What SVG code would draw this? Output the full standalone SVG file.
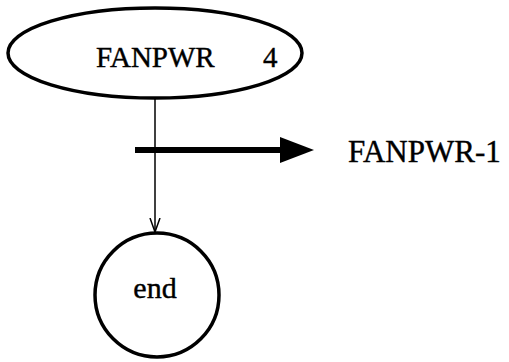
<svg xmlns="http://www.w3.org/2000/svg" width="509" height="362" viewBox="0 0 509 362">
<style>
.n{fill:none;stroke:#000;stroke-width:3.5}
.t{font-family:"Liberation Serif",serif;font-size:29px;fill:#000;stroke:#000;stroke-width:0.4}
</style>
<defs>
<marker id="ah" markerWidth="12" markerHeight="14" refX="6" refY="14" orient="0" markerUnits="userSpaceOnUse">
<path d="M1,0 L6,14 L11,0" fill="none" stroke="#000" stroke-width="1.5"/>
</marker>
</defs>
<rect width="509" height="362" fill="#fff"/>
<g id="connectors">
<line x1="155" y1="99" x2="155" y2="232" stroke="#000" stroke-width="1.5" marker-end="url(#ah)"/>
<line x1="135" y1="150" x2="282" y2="150" stroke="#000" stroke-width="6"/>
<polygon points="280,137 314,150 280,163" fill="#000"/>
<text class="t" x="348" y="162" style="font-size:31px">FANPWR-1</text>
</g>
<g id="node-fanpwr">
<ellipse class="n" cx="155" cy="53" rx="147" ry="45"/>
<text class="t" x="96" y="67">FANPWR</text>
<text class="t" x="263" y="67">4</text>
</g>
<g id="node-end">
<circle class="n" cx="157" cy="295" r="62"/>
<text class="t" x="155" y="298" text-anchor="middle" style="font-size:30px">end</text>
</g>
</svg>
